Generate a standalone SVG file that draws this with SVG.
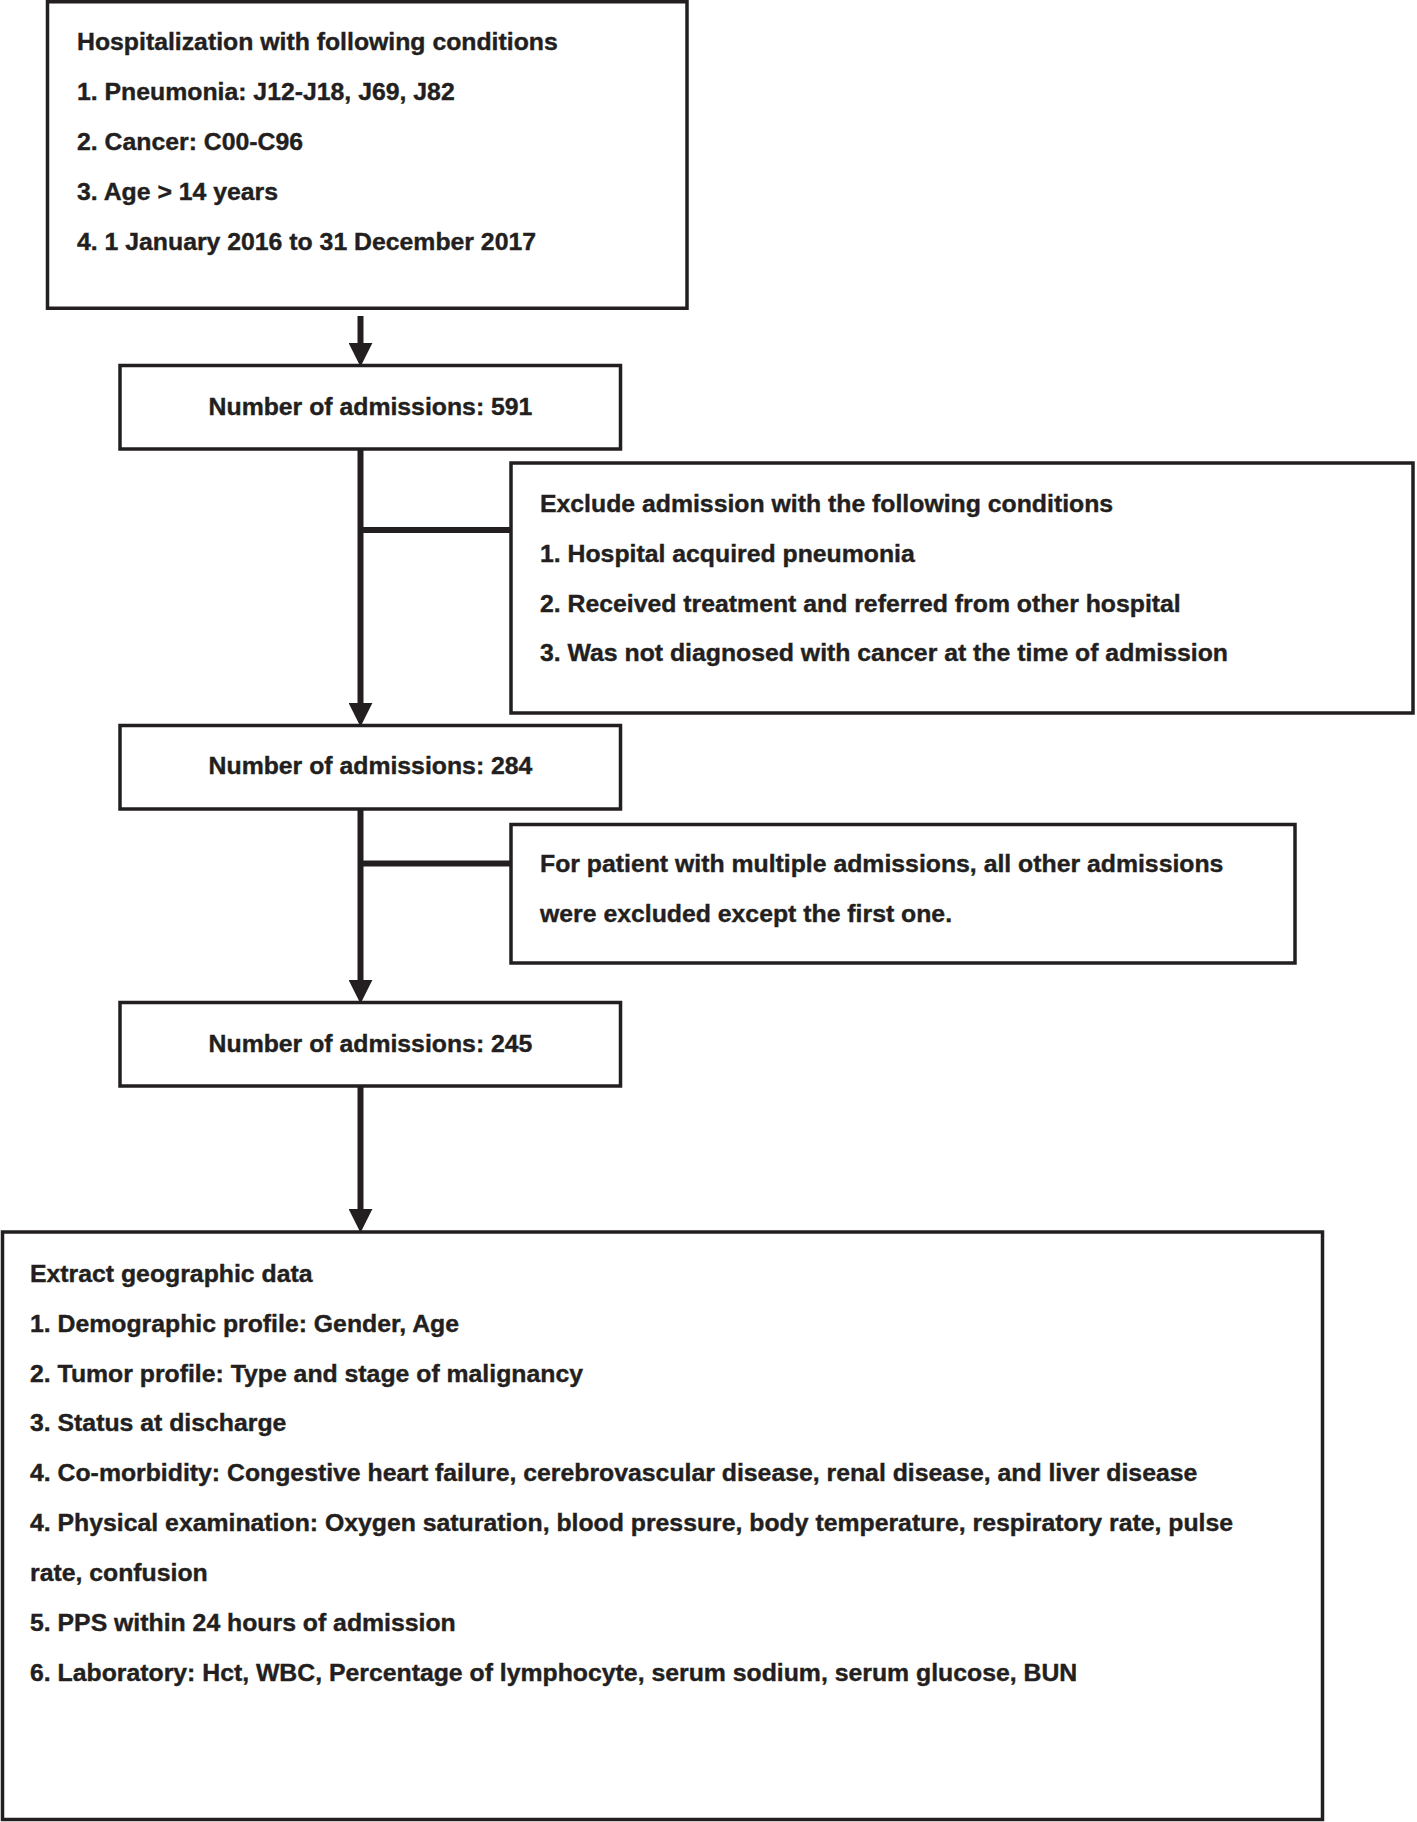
<svg xmlns="http://www.w3.org/2000/svg" width="1417" height="1822" viewBox="0 0 1417 1822">
<style>
.box{fill:#fff;stroke:#231f20;stroke-width:3.5}
.t{font-family:"Liberation Sans",Arial,sans-serif;font-weight:bold;font-size:24.8px;fill:#231f20;stroke:#231f20;stroke-width:0.4}
.c{text-anchor:middle}
.ln{stroke:#231f20;stroke-width:6;fill:none}
</style>
<defs>
<marker id="ah" markerUnits="userSpaceOnUse" markerWidth="24" markerHeight="24" viewBox="0 0 22 22" refX="2" refY="11" orient="auto">
<path d="M0,0 L22,11 L0,22 z" fill="#231f20"/>
</marker>
</defs>
<rect width="1417" height="1822" fill="#fff"/>
<g id="connectors">
<line class="ln" x1="360.5" y1="316" x2="360.5" y2="345" marker-end="url(#ah)"/>
<line class="ln" x1="360.5" y1="449" x2="360.5" y2="705" marker-end="url(#ah)"/>
<line class="ln" x1="360.5" y1="530" x2="511" y2="530"/>
<line class="ln" x1="360.5" y1="809" x2="360.5" y2="982" marker-end="url(#ah)"/>
<line class="ln" x1="360.5" y1="863.5" x2="511" y2="863.5"/>
<line class="ln" x1="360.5" y1="1086" x2="360.5" y2="1211" marker-end="url(#ah)"/>
</g>
<g id="n_criteria">
<rect class="box" x="47.5" y="1.75" width="639.5" height="306.5"/>
<text class="t" x="77" y="50">Hospitalization with following conditions</text>
<text class="t" x="77" y="100">1. Pneumonia: J12-J18, J69, J82</text>
<text class="t" x="77" y="150">2. Cancer: C00-C96</text>
<text class="t" x="77" y="200">3. Age &gt; 14 years</text>
<text class="t" x="77" y="249.5">4. 1 January 2016 to 31 December 2017</text>
</g>
<g id="n_591">
<rect class="box" x="120" y="365.5" width="500.5" height="83.5"/>
<text class="t c" x="370.5" y="415">Number of admissions: 591</text>
</g>
<g id="n_exclude1">
<rect class="box" x="511" y="463" width="902" height="250"/>
<text class="t" x="540" y="512">Exclude admission with the following conditions</text>
<text class="t" x="540" y="562">1. Hospital acquired pneumonia</text>
<text class="t" x="540" y="611.5">2. Received treatment and referred from other hospital</text>
<text class="t" x="540" y="661">3. Was not diagnosed with cancer at the time of admission</text>
</g>
<g id="n_284">
<rect class="box" x="120" y="725.5" width="500.5" height="83.5"/>
<text class="t c" x="370.5" y="774">Number of admissions: 284</text>
</g>
<g id="n_exclude2">
<rect class="box" x="511" y="824.5" width="784" height="138.5"/>
<text class="t" x="540" y="872">For patient with multiple admissions, all other admissions</text>
<text class="t" x="540" y="922">were excluded except the first one.</text>
</g>
<g id="n_245">
<rect class="box" x="120" y="1002.5" width="500.5" height="83.5"/>
<text class="t c" x="370.5" y="1051.5">Number of admissions: 245</text>
</g>
<g id="n_extract">
<rect class="box" x="2.5" y="1232" width="1320" height="587.5"/>
<text class="t" x="30" y="1281.5">Extract geographic data</text>
<text class="t" x="30" y="1331.5">1. Demographic profile: Gender, Age</text>
<text class="t" x="30" y="1381.5">2. Tumor profile: Type and stage of malignancy</text>
<text class="t" x="30" y="1431">3. Status at discharge</text>
<text class="t" x="30" y="1481">4. Co-morbidity: Congestive heart failure, cerebrovascular disease, renal disease, and liver disease</text>
<text class="t" x="30" y="1531">4. Physical examination: Oxygen saturation, blood pressure, body temperature, respiratory rate, pulse</text>
<text class="t" x="30" y="1581">rate, confusion</text>
<text class="t" x="30" y="1631">5. PPS within 24 hours of admission</text>
<text class="t" x="30" y="1681">6. Laboratory: Hct, WBC, Percentage of lymphocyte, serum sodium, serum glucose, BUN</text>
</g>
</svg>
